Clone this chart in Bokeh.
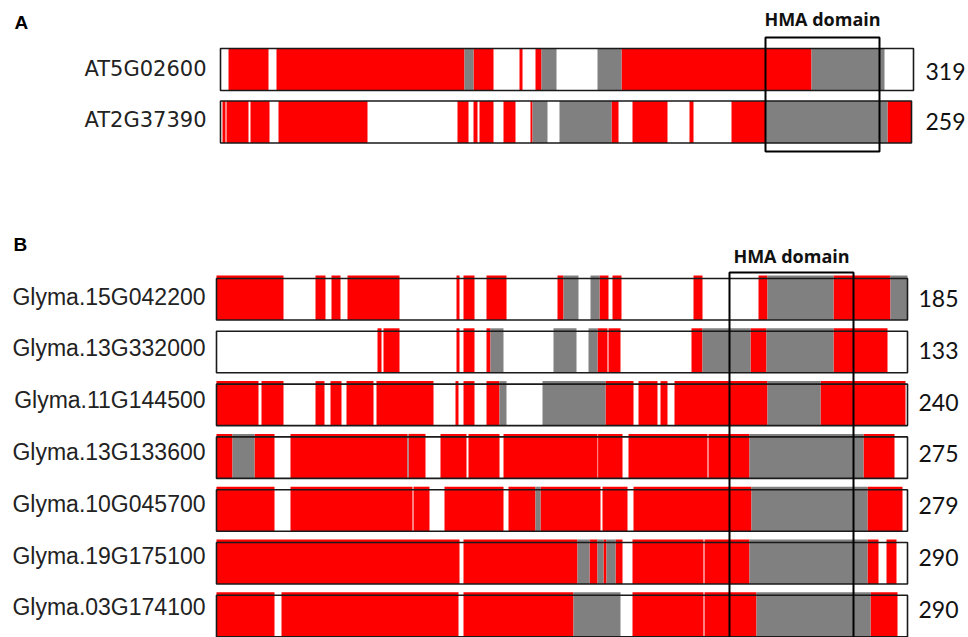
from bokeh.plotting import figure
from bokeh.models import Range1d
from bokeh.embed import file_html
from bokeh.resources import INLINE
from bokeh.core.properties import value

# ---------------- DATA ----------------
# Panel A: Arabidopsis proteins, positions are alignment columns
a_names = ["AT5G02600", "AT2G37390"]
a_sizes = ["319", "259"]
a_extent = [693, 691]
AT5G02600_red = [(8, 48), (56, 244), (253, 273), (299, 302), (315, 321), (401, 591)]
AT5G02600_gray = [(244, 253), (321, 336), (377, 401), (591, 664)]
AT2G37390_red = [(2, 5), (6, 28), (30, 49), (58, 147), (237, 248), (253, 257), (259, 273),
                 (283, 295), (310, 312), (391, 398), (412, 447), (469, 473), (511, 545), (667, 691)]
AT2G37390_gray = [(312, 327), (339, 391), (545, 667)]
a_hma = (545, 659)

# Panel B: soybean proteins
b_names = ["Glyma.15G042200", "Glyma.13G332000", "Glyma.11G144500", "Glyma.13G133600",
           "Glyma.10G045700", "Glyma.19G175100", "Glyma.03G174100"]
b_sizes = ["185", "133", "240", "275", "279", "290", "290"]
b_extent = 691
g15G042200_red = [(0, 67), (99, 109), (115, 124), (131, 183), (240, 243), (247, 258), (270, 290),
                  (341, 347), (383, 392), (396, 405), (477, 486), (542, 551), (617, 674)]
g15G042200_gray = [(347, 362), (374, 383), (551, 617), (674, 691)]
g13G332000_red = [(161, 165), (167, 183), (240, 243), (247, 258), (270, 274), (381, 391),
                  (392, 404), (475, 486), (534, 550), (617, 671)]
g13G332000_gray = [(274, 287), (337, 360), (372, 381), (486, 534), (550, 617)]
g11G144500_red = [(0, 42), (45, 67), (99, 108), (114, 125), (130, 157), (160, 217), (239, 242),
                  (247, 258), (270, 283), (389, 417), (422, 441), (444, 451), (458, 551), (604, 689)]
g11G144500_gray = [(283, 290), (326, 389), (551, 604)]
g13G133600_red = [(0, 16), (38, 58), (74, 191), (192, 209), (224, 250), (252, 283), (287, 381),
                  (381.6, 406), (412, 491), (492, 533), (647, 678)]
g13G133600_gray = [(16, 38), (191, 192), (533, 647)]
g10G045700_red = [(0, 58), (74, 196), (197, 213), (228, 287), (292, 319), (324, 384), (386, 411),
                  (417, 535), (651, 686)]
g10G045700_gray = [(319, 324), (535, 651)]
g19G175100_red = [(0, 243), (247, 361), (373, 381), (387, 390), (399, 406), (416, 487),
                  (488, 533), (651, 662), (670, 680)]
g19G175100_gray = [(361, 373), (381, 387), (390, 399), (533, 651)]
g03G174100_red = [(0, 58), (65, 242), (247, 357), (416, 487), (488, 540), (654, 681)]
g03G174100_gray = [(357, 404), (540, 654)]
b_hma = (513, 637)

a_red = [AT5G02600_red, AT2G37390_red]
a_gray = [AT5G02600_gray, AT2G37390_gray]
b_red = [g15G042200_red, g13G332000_red, g11G144500_red, g13G133600_red,
         g10G045700_red, g19G175100_red, g03G174100_red]
b_gray = [g15G042200_gray, g13G332000_gray, g11G144500_gray, g13G133600_gray,
          g10G045700_gray, g19G175100_gray, g03G174100_gray]

# ---------------- LAYOUT ----------------
W, H = 968, 637
p = figure(width=W, height=H, output_backend="svg", toolbar_location=None,
           x_range=Range1d(0, W), y_range=Range1d(H, 0),
           min_border=0, outline_line_color=None, background_fill_color="white",
           border_fill_color="white")
p.axis.visible = False
p.grid.visible = False

RED = "#FF0000"
GRAY = "#808080"
EDGE = "#1a1a1a"

A_X0 = 220
B_X0 = 216


def draw_row(x0, extent, top, height, reds, grays, shift):
    bottom = top + height
    ftop = top - shift
    p.quad(left=[x0], right=[x0 + extent], top=[top], bottom=[bottom],
           fill_color="white", line_color=None)
    if reds:
        p.quad(left=[x0 + s for s, e in reds], right=[x0 + e for s, e in reds],
               top=[ftop] * len(reds), bottom=[bottom] * len(reds),
               fill_color=RED, line_color=None)
    if grays:
        p.quad(left=[x0 + s for s, e in grays], right=[x0 + e for s, e in grays],
               top=[ftop] * len(grays), bottom=[bottom] * len(grays),
               fill_color=GRAY, line_color=None)
    p.quad(left=[x0], right=[x0 + extent], top=[top], bottom=[bottom],
           fill_color=None, line_color=EDGE, line_width=1.6)


# Panel A rows
a_tops = [48 + 52.5 * i for i in range(len(a_names))]
for i in range(len(a_names)):
    draw_row(A_X0, a_extent[i], a_tops[i], 42, a_red[i], a_gray[i], 0)
p.quad(left=[A_X0 + a_hma[0]], right=[A_X0 + a_hma[1]], top=[37], bottom=[151],
       fill_color=None, line_color="black", line_width=2)

# Panel B rows
b_tops = [278 + 52.8 * i for i in range(len(b_names))]
for i in range(len(b_names)):
    draw_row(B_X0, b_extent, b_tops[i], 41.5, b_red[i], b_gray[i], 3)
p.quad(left=[B_X0 + b_hma[0]], right=[B_X0 + b_hma[1]], top=[272], bottom=[660],
       fill_color=None, line_color="black", line_width=2)

# Texts
p.text(x=[14, 13], y=[22, 244], text=["A", "B"], text_font=value("Liberation Sans"),
       text_font_style="bold", text_font_size="19px", text_baseline="middle", text_align="left",
       text_color="black")
p.text(x=[206, 206], y=[68, 119], text=a_names, text_font=value("DejaVu Sans"),
       text_font_size="21px", text_baseline="middle", text_align="right", text_color="#222222")
p.text(x=[925, 925], y=[71, 121], text=a_sizes, text_font=value("Lato"),
       text_font_size="23px", text_baseline="middle", text_align="left", text_color="#111111")
b_label_y = [296 + 51.8 * i for i in range(len(b_names))]
p.text(x=[205] * len(b_names), y=b_label_y, text=b_names, text_font=value("Liberation Sans"),
       text_font_size="23px", text_baseline="middle", text_align="right", text_color="#222222")
p.text(x=[918] * len(b_names), y=[y + 2 for y in b_label_y], text=b_sizes, text_font=value("Lato"),
       text_font_size="23px", text_baseline="middle", text_align="left", text_color="#111111")
p.text(x=[A_X0 + (a_hma[0] + a_hma[1]) / 2, B_X0 + (b_hma[0] + b_hma[1]) / 2], y=[18, 255],
       text=["HMA domain", "HMA domain"], text_font=value("Open Sans"), text_font_style="bold",
       text_font_size="18px", text_baseline="middle", text_align="center", text_color="#111111")

open("out.html", "w").write(file_html(p, INLINE))
